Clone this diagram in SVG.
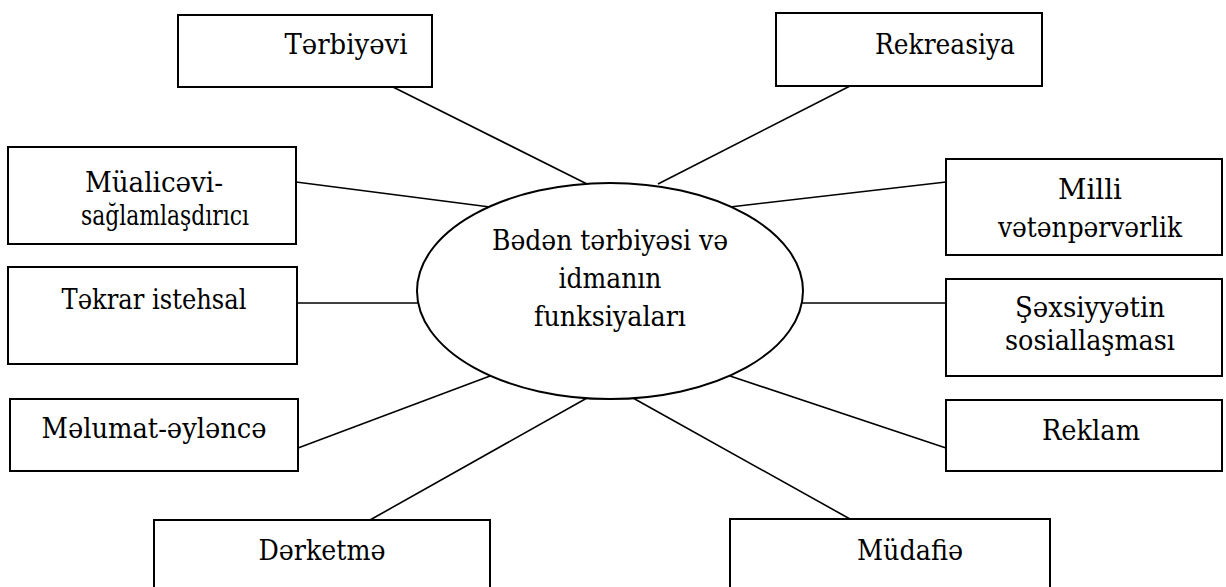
<svg xmlns="http://www.w3.org/2000/svg" width="1226" height="587" viewBox="0 0 1226 587">
<style>
.box{fill:#fff;stroke:#000;stroke-width:2}
.conn line{stroke:#000;stroke-width:1.6}
text{font-family:'DejaVu Serif Condensed','DejaVu Serif',serif;font-size:28px;fill:#000;text-anchor:middle}
</style>
<rect width="1226" height="587" fill="#fff"/>
<g id="connectors" class="conn">
<line x1="393" y1="87" x2="587" y2="184"/>
<line x1="850" y1="86" x2="658" y2="184"/>
<line x1="296" y1="182" x2="490" y2="207"/>
<line x1="946" y1="182" x2="730" y2="207"/>
<line x1="297" y1="303" x2="420" y2="303"/>
<line x1="800" y1="303" x2="946" y2="303"/>
<line x1="298" y1="448" x2="490" y2="376"/>
<line x1="946" y1="448" x2="730" y2="376"/>
<line x1="370" y1="520" x2="587" y2="398"/>
<line x1="850" y1="519" x2="633" y2="398"/>
</g>
<g id="center">
<ellipse cx="610" cy="291" rx="193" ry="108" class="box"/>
<text x="610" y="250" textLength="236" lengthAdjust="spacingAndGlyphs">Bədən tərbiyəsi və</text>
<text x="610" y="288" textLength="103" lengthAdjust="spacingAndGlyphs">idmanın</text>
<text x="610" y="326" textLength="152" lengthAdjust="spacingAndGlyphs">funksiyaları</text>
</g>
<g id="terbiyevi"><rect class="box" x="178" y="15" width="254" height="72"/><text x="346" y="54" textLength="123" lengthAdjust="spacingAndGlyphs">Tərbiyəvi</text></g>
<g id="rekreasiya"><rect class="box" x="776" y="13" width="266" height="73"/><text x="945" y="54" textLength="140" lengthAdjust="spacingAndGlyphs">Rekreasiya</text></g>
<g id="mualicevi"><rect class="box" x="8" y="147" width="288" height="97"/><text x="154" y="192" textLength="138" lengthAdjust="spacingAndGlyphs">Müalicəvi-</text><text x="165" y="225" textLength="168" lengthAdjust="spacingAndGlyphs">sağlamlaşdırıcı</text></g>
<g id="milli"><rect class="box" x="946" y="159" width="276" height="96"/><text x="1090" y="199" textLength="64" lengthAdjust="spacingAndGlyphs">Milli</text><text x="1090" y="237" textLength="184" lengthAdjust="spacingAndGlyphs">vətənpərvərlik</text></g>
<g id="tekrar"><rect class="box" x="8" y="267" width="289" height="97"/><text x="154" y="309" textLength="185" lengthAdjust="spacingAndGlyphs">Təkrar istehsal</text></g>
<g id="sexsiyyetin"><rect class="box" x="946" y="279" width="276" height="97"/><text x="1090" y="317" textLength="150" lengthAdjust="spacingAndGlyphs">Şəxsiyyətin</text><text x="1090" y="350" textLength="170" lengthAdjust="spacingAndGlyphs">sosiallaşması</text></g>
<g id="melumat"><rect class="box" x="10" y="399" width="288" height="72"/><text x="154" y="438" textLength="225" lengthAdjust="spacingAndGlyphs">Məlumat-əyləncə</text></g>
<g id="reklam"><rect class="box" x="946" y="400" width="276" height="71"/><text x="1091" y="440" textLength="98" lengthAdjust="spacingAndGlyphs">Reklam</text></g>
<g id="derketme"><rect class="box" x="154" y="520" width="336" height="80"/><text x="322" y="560" textLength="127" lengthAdjust="spacingAndGlyphs">Dərketmə</text></g>
<g id="mudafie"><rect class="box" x="730" y="519" width="320" height="80"/><text x="910" y="560" textLength="106" lengthAdjust="spacingAndGlyphs">Müdafiə</text></g>
</svg>
